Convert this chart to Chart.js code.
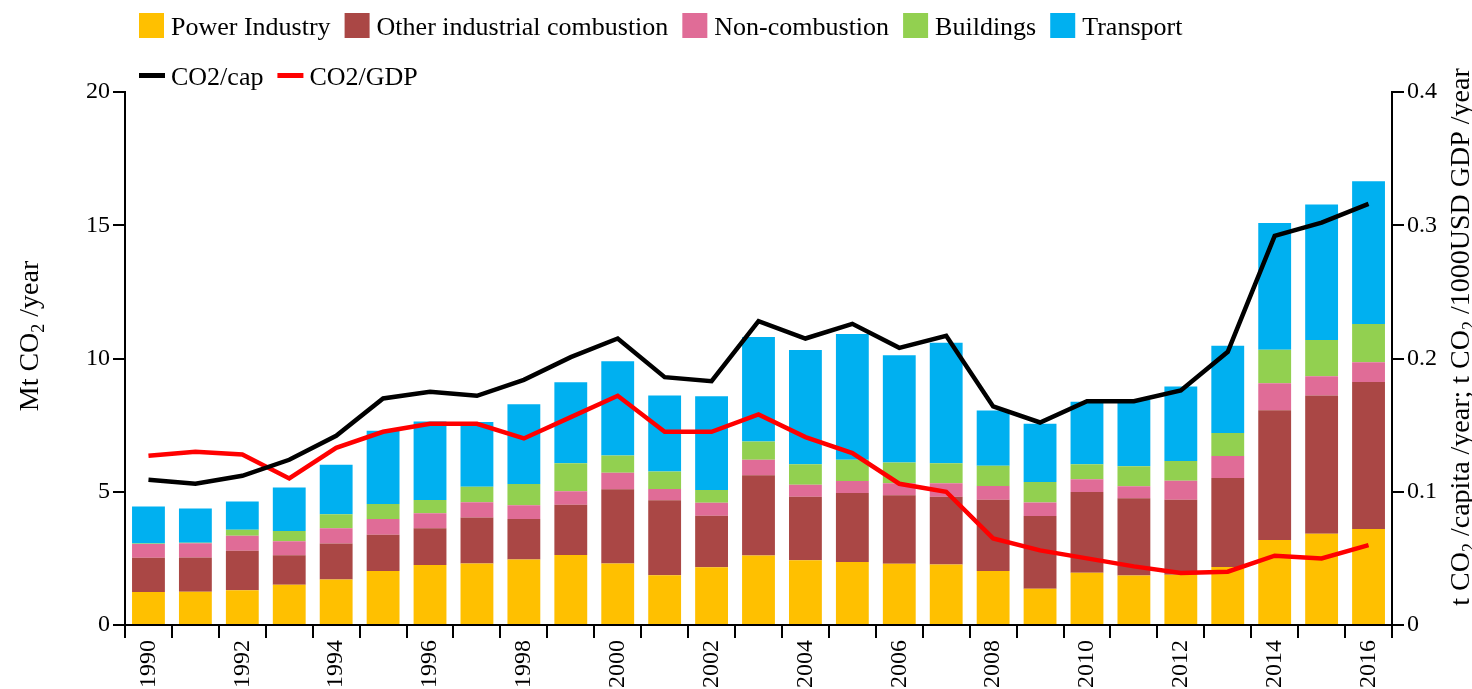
<!DOCTYPE html>
<html>
<head>
<meta charset="utf-8">
<script src="https://cdn.jsdelivr.net/npm/chart.js@4.4.1/dist/chart.umd.min.js"></script>
<style>
  html, body { margin: 0; padding: 0; background: #fff; }
  canvas { display: block; }
</style>
</head>
<body>
<canvas id="c" width="1472" height="689"></canvas>
<script>
const years = ['1990','1991','1992','1993','1994','1995','1996','1997','1998','1999','2000','2001','2002','2003','2004','2005','2006','2007','2008','2009','2010','2011','2012','2013','2014','2015','2016'];

const powerIndustry = [1.24,1.25,1.30,1.51,1.71,2.03,2.25,2.31,2.46,2.63,2.31,1.87,2.17,2.61,2.43,2.36,2.30,2.27,2.03,1.36,1.96,1.86,1.89,2.18,3.19,3.42,3.60];
const otherIndustrial = [1.28,1.28,1.49,1.11,1.35,1.36,1.38,1.72,1.52,1.88,2.78,2.81,1.93,3.01,2.38,2.59,2.57,2.54,2.67,2.73,3.03,2.90,2.81,3.34,4.87,5.19,5.52];
const nonCombustion = [0.52,0.54,0.56,0.52,0.57,0.59,0.56,0.58,0.51,0.51,0.62,0.42,0.49,0.58,0.45,0.45,0.45,0.51,0.52,0.51,0.48,0.45,0.71,0.82,1.01,0.72,0.74];
const buildings = [0.02,0.02,0.22,0.39,0.53,0.56,0.50,0.58,0.80,1.05,0.65,0.66,0.48,0.69,0.77,0.80,0.78,0.75,0.76,0.77,0.56,0.75,0.74,0.86,1.26,1.36,1.43];
const transport = [1.39,1.28,1.06,1.63,1.85,2.75,2.95,2.43,2.99,3.04,3.54,2.85,3.51,3.92,4.29,4.72,4.02,4.52,2.07,2.18,2.35,2.48,2.80,3.28,4.75,5.09,5.36];

const co2PerCap = [0.109,0.106,0.112,0.124,0.142,0.170,0.175,0.172,0.184,0.201,0.215,0.186,0.183,0.228,0.215,0.226,0.208,0.217,0.164,0.152,0.168,0.168,0.176,0.205,0.292,0.302,0.316];
const co2PerGdp = [0.127,0.130,0.128,0.110,0.133,0.145,0.151,0.151,0.140,0.156,0.172,0.145,0.145,0.158,0.141,0.129,0.106,0.100,0.065,0.056,0.050,0.044,0.039,0.040,0.052,0.050,0.060];

const leftTicks = [0, 5, 10, 15, 20];
const rightTicks = [0, 0.1, 0.2, 0.3, 0.4];

const FONT = '"Liberation Serif", "Times New Roman", serif';

const overlay = {
  id: 'overlay',
  afterDraw(chart) {
    const ctx = chart.ctx;
    ctx.save();
    ctx.fillStyle = '#000';
    // Legend
    const ds = chart.data.datasets;
    const fs = 26;
    ctx.font = fs + 'px ' + FONT;
    ctx.textBaseline = 'alphabetic';
    ctx.textAlign = 'left';
    const rows = [
      { items: ds.filter(d => d.type !== 'line'), cy: 25.5 },
      { items: ds.filter(d => d.type === 'line'), cy: 75.5 }
    ];
    rows.forEach(row => {
      let x = 139;
      row.items.forEach(d => {
        if (d.type === 'line') {
          ctx.strokeStyle = d.borderColor;
          ctx.lineWidth = 5;
          ctx.beginPath();
          ctx.moveTo(x, row.cy);
          ctx.lineTo(x + 26, row.cy);
          ctx.stroke();
        } else {
          ctx.fillStyle = d.backgroundColor;
          ctx.fillRect(x, row.cy - 12.5, 25, 25);
        }
        x += 32;
        ctx.fillStyle = '#000';
        ctx.fillText(d.label, x, row.cy + 9);
        x += ctx.measureText(d.label).width + 14;
      });
    });

    // Axis titles with subscripts
    function drawRich(parts, bx, cy, size) {
      const subSize = Math.round(size * 0.65);
      let total = 0;
      const widths = parts.map(p => {
        ctx.font = (p.sub ? subSize : size) + 'px ' + FONT;
        const w = ctx.measureText(p.t).width;
        total += w;
        return w;
      });
      ctx.save();
      ctx.translate(bx, cy);
      ctx.rotate(-Math.PI / 2);
      let x = -total / 2;
      parts.forEach((p, i) => {
        ctx.font = (p.sub ? subSize : size) + 'px ' + FONT;
        ctx.fillText(p.t, x, p.sub ? size * 0.2 : 0);
        x += widths[i];
      });
      ctx.restore();
    }
    ctx.fillStyle = '#000';
    drawRich([{t:'Mt CO'},{t:'2',sub:true},{t:' /year'}], 38, 336, 28);
    drawRich([{t:'t CO'},{t:'2',sub:true},{t:' /capita /year; t CO'},{t:'2',sub:true},{t:' /1000USD GDP /year'}], 1469, 337, 28);
    ctx.restore();
  }
};

new Chart(document.getElementById('c'), {
  data: {
    labels: years,
    datasets: [
      { type: 'line', label: 'CO2/cap', data: co2PerCap, yAxisID: 'y2', borderColor: '#000000', backgroundColor: '#000000', borderWidth: 4.5, pointRadius: 0, tension: 0, order: 0 },
      { type: 'line', label: 'CO2/GDP', data: co2PerGdp, yAxisID: 'y2', borderColor: '#ff0000', backgroundColor: '#ff0000', borderWidth: 4.5, pointRadius: 0, tension: 0, order: 0 },
      { type: 'bar', label: 'Power Industry', data: powerIndustry, backgroundColor: '#ffc000', yAxisID: 'y', order: 1 },
      { type: 'bar', label: 'Other industrial combustion', data: otherIndustrial, backgroundColor: '#aa4745', yAxisID: 'y', order: 1 },
      { type: 'bar', label: 'Non-combustion', data: nonCombustion, backgroundColor: '#e06c97', yAxisID: 'y', order: 1 },
      { type: 'bar', label: 'Buildings', data: buildings, backgroundColor: '#92d050', yAxisID: 'y', order: 1 },
      { type: 'bar', label: 'Transport', data: transport, backgroundColor: '#00b0f0', yAxisID: 'y', order: 1 }
    ]
  },
  options: {
    responsive: false,
    animation: false,
    layout: { padding: { top: 92, left: 0, right: 0, bottom: 0 } },
    datasets: { bar: { barPercentage: 0.7, categoryPercentage: 1.0, borderWidth: 0 } },
    plugins: { legend: { display: false }, tooltip: { enabled: false } },
    scales: {
      x: {
        stacked: true,
        offset: true,
        grid: { offset: true, drawOnChartArea: false, drawTicks: true, tickLength: 13, color: '#000', lineWidth: 2 },
        border: { display: true, color: '#000', width: 2 },
        ticks: {
          autoSkip: false, maxRotation: 90, minRotation: 90, padding: 2,
          color: '#000', font: { family: FONT, size: 24 },
          callback: (v, i) => (i % 2 === 0 ? years[i] : '')
        },
        afterFit: s => { s.height = 64; }
      },
      y: {
        position: 'left', stacked: true, min: 0, max: 20,
        afterBuildTicks: s => { s.ticks = leftTicks.map(v => ({ value: v })); },
        grid: { drawOnChartArea: false, drawTicks: true, tickLength: 12, color: '#000', lineWidth: 2 },
        border: { display: true, color: '#000', width: 2 },
        ticks: { color: '#000', padding: 3, font: { family: FONT, size: 24 } },
        afterFit: s => { s.width = 125; }
      },
      y2: {
        position: 'right', stacked: false, min: 0, max: 0.4,
        afterBuildTicks: s => { s.ticks = rightTicks.map(v => ({ value: v })); },
        grid: { drawOnChartArea: false, drawTicks: true, tickLength: 12, color: '#000', lineWidth: 2 },
        border: { display: true, color: '#000', width: 2 },
        ticks: { color: '#000', padding: 3, font: { family: FONT, size: 24 },
          callback: v => (v === 0 ? '0' : v.toFixed(1)) },
        afterFit: s => { s.width = 80; }
      }
    }
  },
  plugins: [overlay]
});
</script>
</body>
</html>
